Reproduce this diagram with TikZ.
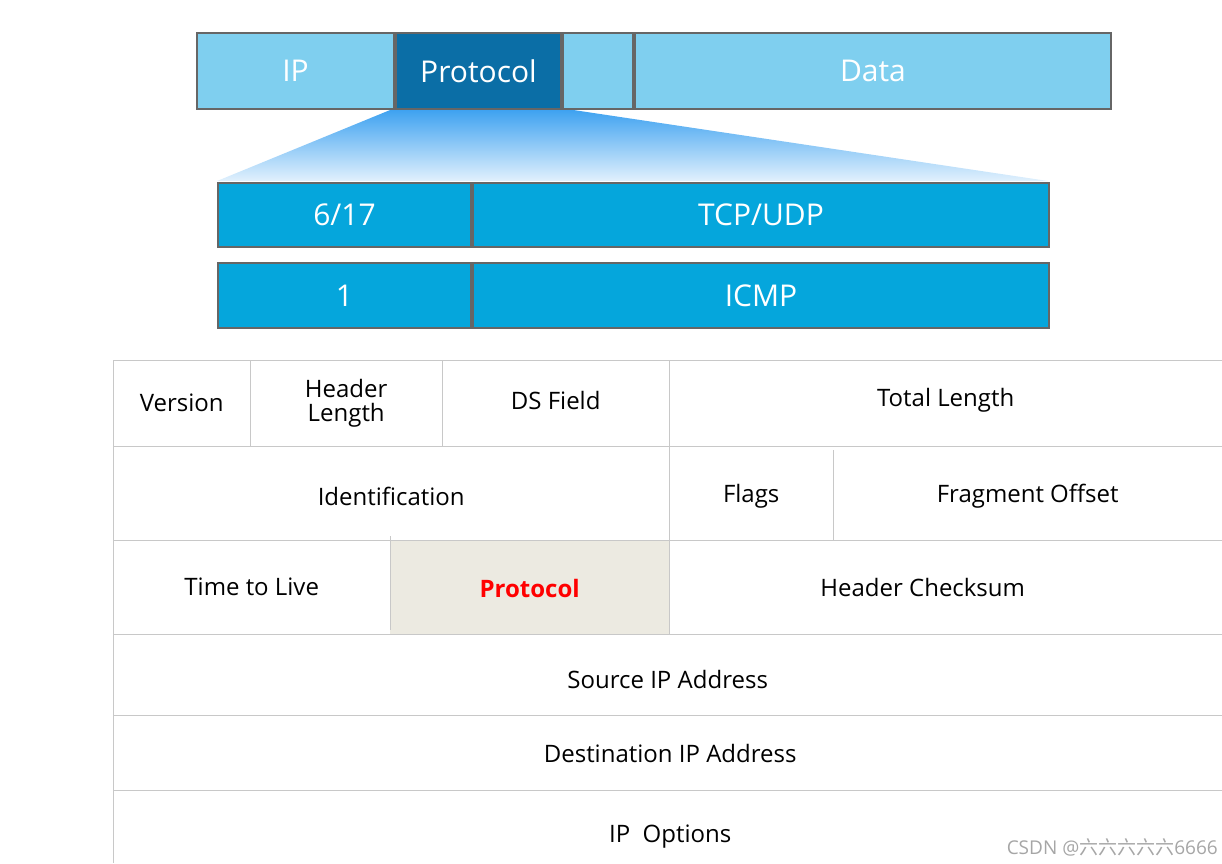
\documentclass[tikz,border=0pt]{standalone}
\usepackage{fontspec}
\setmainfont{Open Sans}
\newfontfamily\cjk{Noto Sans CJK SC}
\usetikzlibrary{positioning}
\definecolor{lightblue}{HTML}{7FCFEF}
\definecolor{darkblue}{HTML}{0B6EA6}
\definecolor{midblue}{HTML}{05A6DC}
\definecolor{fanblue}{HTML}{3AA0F0}
\definecolor{beige}{HTML}{ECEAE1}
\definecolor{rule}{HTML}{C8C8C8}
\tikzset{
  x=1pt, y=-1pt,
  bar/.style={draw=gray!80!black, line width=2pt, anchor=north west, inner sep=0pt,
    text=white, font=\fontsize{30}{32}\selectfont},
  cell/.style={anchor=north west, inner sep=0pt, align=center,
    font=\fontsize{24}{28}\selectfont},
  grid/.style={draw=rule, line width=1pt}
}
\begin{document}
\begin{tikzpicture}
\useasboundingbox (0,0) rectangle (1222,863);
% fan
\shade[top color=fanblue, bottom color=fanblue!15] (395,108) -- (560,108) -- (1048,181) -- (217,181) -- cycle;
% top bar
\node[bar, fill=lightblue, minimum width=197pt, minimum height=76pt] (ip) at (196,32) {IP};
\node[bar, fill=darkblue, minimum width=165pt, minimum height=76pt] (proto) at (395,32) {Protocol};
\node[bar, fill=lightblue, minimum width=70pt, minimum height=76pt] (gap) at (562,32) {};
\node[bar, fill=lightblue, minimum width=476pt, minimum height=76pt] (data) at (634,32) {Data};
% protocol numbers
\node[bar, fill=midblue, minimum width=253pt, minimum height=64pt] (num1) at (217,182) {6/17};
\node[bar, fill=midblue, minimum width=576pt, minimum height=64pt] (tcp) at (472,182) {TCP/UDP};
\node[bar, fill=midblue, minimum width=253pt, minimum height=65pt] (num2) at (217,262) {1};
\node[bar, fill=midblue, minimum width=576pt, minimum height=65pt] (icmp) at (472,262) {ICMP};
% header table
\fill[beige] (390,540) rectangle (669,634);
\foreach \yy in {360,446,540,634,715,790} \draw[grid] (113,\yy) -- (1222,\yy);
\draw[grid] (113,360) -- (113,863);
\draw[grid] (250,360) -- (250,446);
\draw[grid] (442,360) -- (442,446);
\draw[grid] (669,360) -- (669,634);
\draw[grid] (833,450) -- (833,540);
\draw[grid] (390,536) -- (390,630);
\node[cell, minimum width=137pt, minimum height=86pt] (ver) at (113,360) {Version};
\node[cell, minimum width=192pt, minimum height=86pt] (hlen) at (250,360) {Header\\[-4pt]Length};
\node[cell, minimum width=227pt, minimum height=80pt] (ds) at (442,360) {DS Field};
\node[cell, minimum width=553pt, minimum height=80pt] (tlen) at (669,360) {Total Length};
\node[cell, minimum width=556pt, minimum height=100pt] (ident) at (113,446) {Identification};
\node[cell, minimum width=164pt, minimum height=100pt] (flags) at (669,446) {Flags};
\node[cell, minimum width=389pt, minimum height=100pt] (frag) at (833,446) {Fragment Offset};
\node[cell, minimum width=277pt, minimum height=94pt] (ttl) at (113,540) {Time to Live};
\node[cell, minimum width=279pt, minimum height=96pt, text=red, font=\fontsize{24}{28}\selectfont\bfseries] (pfield) at (390,540) {Protocol};
\node[cell, minimum width=507pt, minimum height=94pt] (csum) at (669,540) {Header Checksum};
\node[cell, minimum width=1109pt, minimum height=90pt] (src) at (113,634) {Source IP Address};
\node[cell, minimum width=1114pt, minimum height=77pt] (dst) at (113,715) {Destination IP Address};
\node[cell, minimum width=1114pt, minimum height=92pt] (opt) at (113,790) {IP\ \ Options};
\node[anchor=south east, inner sep=2pt, text=gray!70, font=\fontsize{19}{20}\selectfont] (mark) at (1220,858) {CSDN @{\cjk 六六六六六}6666};
\end{tikzpicture}
\end{document}
